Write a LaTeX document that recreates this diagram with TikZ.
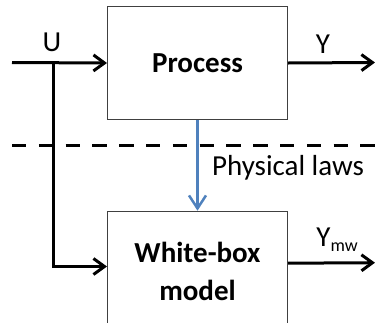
\documentclass[tikz,border=0pt]{standalone}
\usepackage{fontspec}
\setmainfont{Carlito}
\usetikzlibrary{arrows.meta}
\definecolor{lawblue}{RGB}{79,129,189}
\begin{document}
\begin{tikzpicture}[x=1pt,y=-1pt,
  font=\fontsize{29}{38}\selectfont,
  wire/.style={line width=3pt, black},
  tip/.style={-{Straight Barb[length=11pt,width=16pt]}},
  bluetip/.style={-{Straight Barb[length=13pt,width=17pt]}},
  block/.style={draw=black!75, line width=1pt, fill=white, inner sep=0pt, align=center}]
\useasboundingbox (0,0) rectangle (375,322);
\clip (0,0) rectangle (375,322);

% blocks
\node[block, minimum width=180pt, minimum height=113pt, anchor=north west] (proc) at (107,6) {\bfseries Process};
\node[block, minimum width=180pt, minimum height=120pt, anchor=north west] (wb) at (107,210.7) {\bfseries White-box\\\bfseries model};

% separation line
\coordinate (dl) at (12,145);
\coordinate (dr) at (375,145);
\draw[line width=3pt, dash pattern=on 14.4pt off 12.4pt] (dl) -- (dr);

% input U and its branch to the model
\coordinate (uin) at (12,62.5);
\coordinate (br) at (53,62.5);
\draw[wire,tip] (uin) -- (proc.west);
\draw[wire,tip] (br) |- ([yshift=4.7pt]wb.west);
\node (ulab) at (52,42) {U};

% outputs
\coordinate (yout) at (375,62.5);
\draw[wire,tip] (proc.east) -- (yout);
\node (ylab) at (323,44) {Y};
\coordinate (ymwout) at (375,262.7);
\draw[wire,tip] ([yshift=8pt]wb.east) -- (ymwout);
\node (ymwlab) at (337,240) {Y\raisebox{-5pt}{\fontsize{18}{18}\selectfont mw}};

% physical laws
\draw[line width=2.5pt, lawblue, bluetip] (proc.south) -- (wb.north);
\node (laws) at (288,168) {Physical laws};
\end{tikzpicture}
\end{document}
